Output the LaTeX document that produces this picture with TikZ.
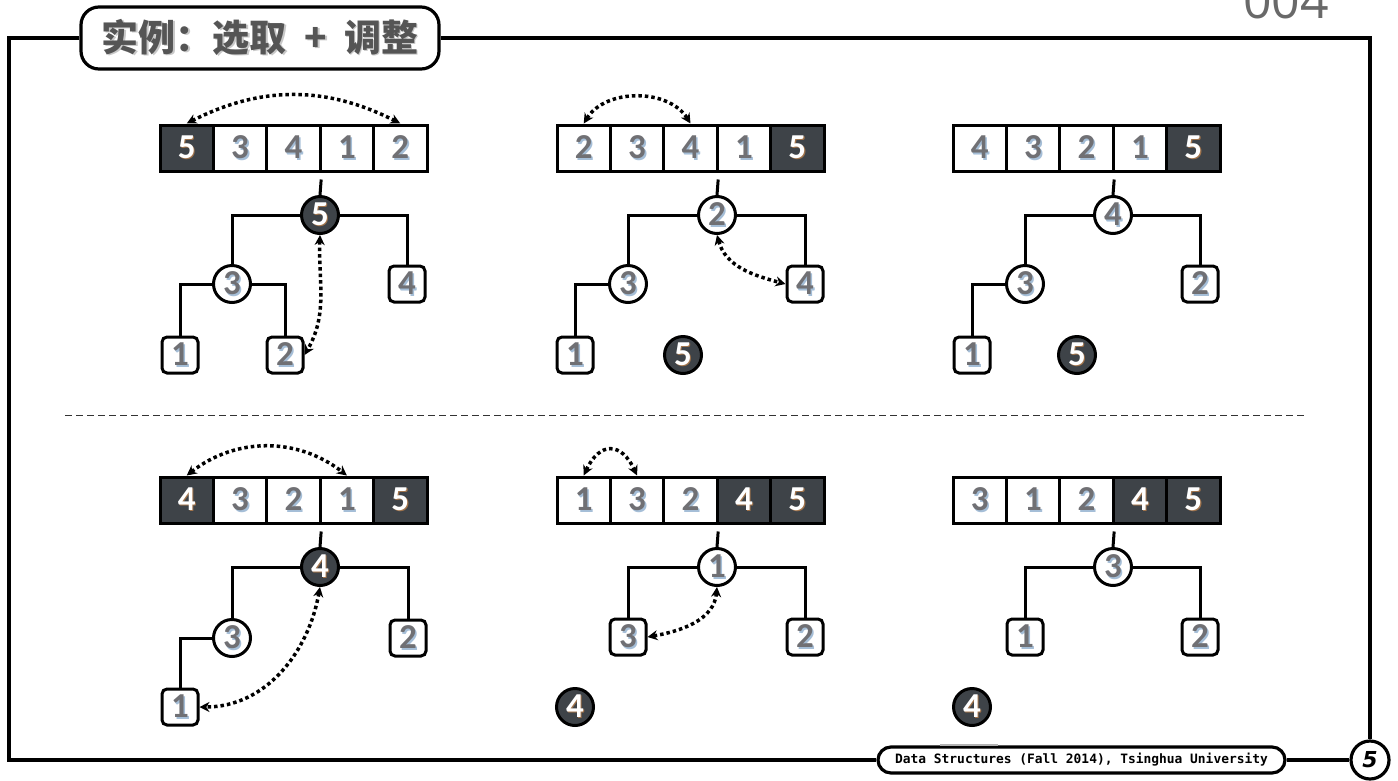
\documentclass[tikz,border=0pt]{standalone}
\usepackage{fontspec}
\usetikzlibrary{arrows.meta}
\newfontfamily\numfont{Carlito}
\newfontfamily\cjkfont{Noto Sans CJK SC}
\newfontfamily\footfont{DejaVu Sans Mono}
\newfontfamily\tagfont{Open Sans}
\newfontfamily\pgfont{DejaVu Sans}
\definecolor{dk}{RGB}{62,67,72}
\definecolor{ng}{RGB}{112,112,116}
\definecolor{sb}{RGB}{165,190,215}
\definecolor{so}{RGB}{160,115,75}
\definecolor{tg}{RGB}{85,85,85}
\definecolor{ts}{RGB}{200,200,200}
\newcommand\shtxt[4]{{\color{#2}\rlap{\kern#4\raisebox{-#4}{#3}}}{\color{#1}#3}}
\newcommand\txl[1]{\shtxt{ng}{sb}{#1}{1.6pt}}
\newcommand\txd[1]{\shtxt{white}{so}{#1}{1.1pt}}
\newcommand\arr[2]{%
  \foreach \v/\f/\m [count=\i] in {#2} {%
    \node[cell, fill=\f] (#1\i) at ({186.7+53.4*(\i-1)},148) {\csname tx\m\endcsname{\v}};
  }%
}
\begin{document}
\begin{tikzpicture}[x=1pt,y=-1pt,
  every node/.style={font=\numfont\bfseries\fontsize{35}{35}\selectfont},
  cell/.style={draw=black, line width=3pt, minimum width=53.4pt, minimum height=46pt, inner sep=0pt},
  rn/.style={circle, draw=black, line width=3pt, fill=white, minimum size=37pt, inner sep=0pt},
  rnd/.style={rn, fill=dk},
  lf/.style={draw=black, line width=3pt, rounded corners=5pt, fill=white, minimum size=36pt, inner sep=0pt},
  br/.style={line width=3pt},
  xchg/.style={line width=3.5pt, dash pattern=on 3.5pt off 3pt, {Stealth[length=10pt,width=10pt]}-{Stealth[length=10pt,width=10pt]}},
  frame/.style={line width=3.2pt},
]
\useasboundingbox (0,0) rectangle (1398,780);

% header / footer
\node[draw, line width=3.2pt, rounded corners=18pt, minimum width=358pt, minimum height=62pt, inner sep=0pt, fill=white,
      font=\cjkfont\bfseries\fontsize{37}{37}\selectfont] (title) at (260,38)
      {\shtxt{tg}{ts}{实例：选取\hspace{18pt}+\hspace{17pt}调整}{1.5pt}};
\node[draw, line width=3.2pt, rounded corners=13pt, minimum width=407pt, minimum height=26pt, inner sep=0pt,
      font=\footfont\bfseries\fontsize{12.9}{13}\selectfont] (foot) at (1081.5,760)
      {Data Structures (Fall 2014), Tsinghua University};
\node[circle, draw, line width=3.2pt, minimum size=38pt, inner sep=0pt,
      font=\pgfont\bfseries\itshape\fontsize{22}{22}\selectfont] (pg) at (1370,760) {5};
\node[anchor=base, font=\tagfont\fontsize{50}{50}\selectfont, text={rgb,255:red,105;green,105;blue,105}] (pnum) at (1286,18) {004};
\coordinate (ftl) at (9,38);
\coordinate (fbl) at (9,760);
\coordinate (ftr) at (1370,38);
\draw[frame] (title.west) -- (ftl) -- (fbl) -- (foot.west);
\draw[frame] (title.east) -- (ftr) -- (pg.north);
\draw[frame] (foot.east) -- (pg.west);
\coordinate (gm1) at (940,745);
\coordinate (gm2) at (998,745);
\draw[line width=2pt, black!30] (gm1) -- (gm2);
\coordinate (dl) at (65,415);
\coordinate (dr) at (1305,415);
\draw[line width=1pt, black!80, dash pattern=on 7pt off 4pt] (dl) -- (dr);

% panel 1
\begin{scope}
\arr{a}{5/dk/d,3/white/l,4/white/l,1/white/l,2/white/l}
\node[rnd] (ar) at (320,215) {\txd{5}};
\node[rn] (an3) at (232,284) {\txl{3}};
\node[lf] (ab4) at (407,284) {\txl{4}};
\node[lf] (ab1) at (180,355) {\txl{1}};
\node[lf] (ab2) at (285,355) {\txl{2}};
\draw[br, shorten <=7pt] (a3.south east) -- (ar.north);
\draw[br] (ar.west) -| (an3.north);
\draw[br] (ar.east) -| (ab4.north);
\draw[br] (an3.west) -| (ab1.north);
\draw[br] (an3.east) -| (ab2.north);
\draw[xchg] (a1.north) to[bend left=27] (a5.north);
\draw[xchg] (ar.south) to[out=-92,in=60] (ab2.east);
\end{scope}

% panel 2
\begin{scope}[shift={(397,0)}]
\arr{b}{2/white/l,3/white/l,4/white/l,1/white/l,5/dk/d}
\node[rn] (br) at (320,215) {\txl{2}};
\node[rn] (bn3) at (231,284) {\txl{3}};
\node[lf] (bb4) at (408,284) {\txl{4}};
\node[lf] (bb1) at (178,355) {\txl{1}};
\node[rnd] (bd5) at (286,355) {\txd{5}};
\draw[br, shorten <=7pt] (b3.south east) -- (br.north);
\draw[br] (br.west) -| (bn3.north);
\draw[br] (br.east) -| (bb4.north);
\draw[br] (bn3.west) -| (bb1.north);
\draw[xchg] (b1.north) to[bend left=58] (b3.north);
\draw[xchg] (br.south) to[out=-75,in=165] (bb4.west);
\end{scope}

% panel 3
\begin{scope}[shift={(793,0)}]
\arr{c}{4/white/l,3/white/l,2/white/l,1/white/l,5/dk/d}
\node[rn] (cr) at (320,215) {\txl{4}};
\node[rn] (cn3) at (232,284) {\txl{3}};
\node[lf] (cb2) at (407,284) {\txl{2}};
\node[lf] (cb1) at (179,355) {\txl{1}};
\node[rnd] (cd5) at (284,355) {\txd{5}};
\draw[br, shorten <=7pt] (c3.south east) -- (cr.north);
\draw[br] (cr.west) -| (cn3.north);
\draw[br] (cr.east) -| (cb2.north);
\draw[br] (cn3.west) -| (cb1.north);
\end{scope}

% panel 4
\begin{scope}[shift={(0,352)}]
\arr{d}{4/dk/d,3/white/l,2/white/l,1/white/l,5/dk/d}
\node[rnd] (dr) at (320,215) {\txd{4}};
\node[rn] (dn3) at (232,286) {\txl{3}};
\node[lf] (db2) at (408,286) {\txl{2}};
\node[lf] (db1) at (180,355) {\txl{1}};
\draw[br, shorten <=7pt] (d3.south east) -- (dr.north);
\draw[br] (dr.west) -| (dn3.north);
\draw[br] (dr.east) -| (db2.north);
\draw[br] (dn3.west) -| (db1.north);
\draw[xchg] (d1.north) to[bend left=38] (d4.north);
\draw[xchg] (dr.south) to[out=-100,in=0] (db1.east);
\end{scope}

% panel 5
\begin{scope}[shift={(397,352)}]
\arr{e}{1/white/l,3/white/l,2/white/l,4/dk/d,5/dk/d}
\node[rn] (er) at (320,215) {\txl{1}};
\node[lf] (eb3) at (231,285) {\txl{3}};
\node[lf] (eb2) at (408,285) {\txl{2}};
\node[rnd] (ed4) at (178,355) {\txd{4}};
\draw[br, shorten <=7pt] (e3.south east) -- (er.north);
\draw[br] (er.west) -| (eb3.north);
\draw[br] (er.east) -| (eb2.north);
\draw[xchg] (e1.north) to[out=65,in=115,looseness=1.8] (e2.north);
\draw[xchg] (er.south) to[out=-95,in=10] (eb3.east);
\end{scope}

% panel 6
\begin{scope}[shift={(793,352)}]
\arr{f}{3/white/l,1/white/l,2/white/l,4/dk/d,5/dk/d}
\node[rn] (fr) at (320,215) {\txl{3}};
\node[lf] (fb1) at (232,285) {\txl{1}};
\node[lf] (fb2) at (407,285) {\txl{2}};
\node[rnd] (fd4) at (179,355) {\txd{4}};
\draw[br, shorten <=7pt] (f3.south east) -- (fr.north);
\draw[br] (fr.west) -| (fb1.north);
\draw[br] (fr.east) -| (fb2.north);
\end{scope}
\end{tikzpicture}
\end{document}
